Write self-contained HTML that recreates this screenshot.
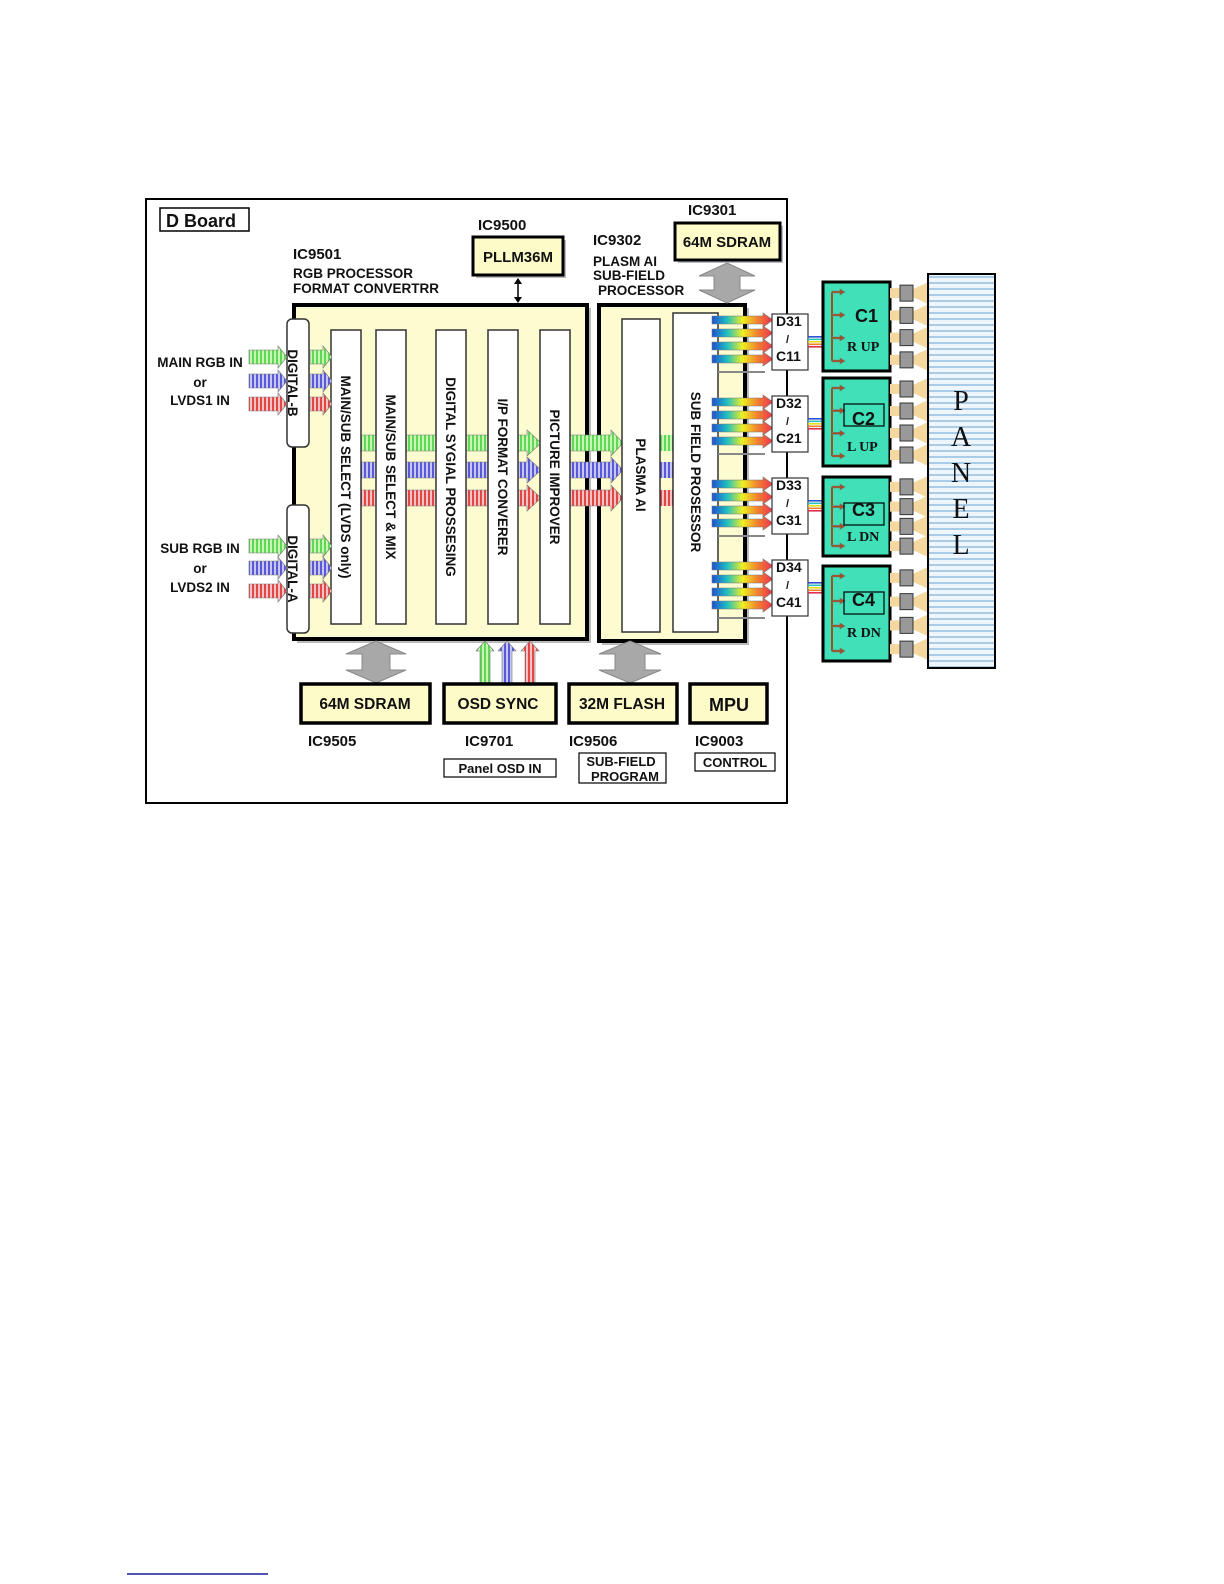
<!DOCTYPE html>
<html><head><meta charset="utf-8"><style>
html,body{margin:0;padding:0;background:#fff}
svg{display:block}
text{font-family:"Liberation Sans",Arial,sans-serif;font-weight:bold;fill:#111}
</style></head><body>
<svg id="s" width="1224" height="1584" viewBox="0 0 1224 1584" xmlns="http://www.w3.org/2000/svg">
<defs>
<pattern id="pg" width="4" height="4" patternUnits="userSpaceOnUse"><rect width="4" height="4" fill="#c8f5b0"/><rect width="2" height="4" fill="#5fd85a"/></pattern>
<pattern id="pb" width="4" height="4" patternUnits="userSpaceOnUse"><rect width="4" height="4" fill="#c6c6f5"/><rect width="2" height="4" fill="#5a5ad8"/></pattern>
<pattern id="pr" width="4" height="4" patternUnits="userSpaceOnUse"><rect width="4" height="4" fill="#f8c2c2"/><rect width="2" height="4" fill="#e04848"/></pattern>
<pattern id="pp" width="6" height="6" patternUnits="userSpaceOnUse"><rect width="6" height="6" fill="#eef6fc"/><rect width="6" height="2" fill="#a9cde8"/></pattern>
<linearGradient id="rb" x1="0" x2="1" y1="0" y2="0"><stop offset="0" stop-color="#2050d0"/><stop offset="0.25" stop-color="#20c0c0"/><stop offset="0.5" stop-color="#f0f020"/><stop offset="0.75" stop-color="#f08030"/><stop offset="1" stop-color="#f03050"/></linearGradient>
</defs>
<!-- outer frame -->
<rect x="146" y="199" width="641" height="604" fill="#fff" stroke="#000" stroke-width="2"/>
<rect x="160" y="208" width="89" height="23" fill="#fff" stroke="#000" stroke-width="1.5"/>
<text x="166" y="227" font-size="18">D Board</text>
<text x="293" y="259" font-size="15">IC9501</text>
<text x="293" y="278" font-size="13.5">RGB PROCESSOR</text>
<text x="293" y="293" font-size="13.5">FORMAT CONVERTRR</text>
<text x="478" y="230" font-size="15">IC9500</text>
<rect x="476" y="240" width="90" height="38" fill="#bbb"/>
<rect x="473" y="237" width="90" height="38" fill="#fdfbc8" stroke="#000" stroke-width="3"/>
<text x="518" y="262" font-size="15" text-anchor="middle">PLLM36M</text>
<line x1="518" y1="279" x2="518" y2="301" stroke="#000" stroke-width="1.5"/>
<path d="M514,284 L518,278 L522,284Z M514,297 L518,303 L522,297Z"/>
<text x="593" y="245" font-size="15">IC9302</text>
<text x="593" y="266" font-size="13.5">PLASM AI</text>
<text x="593" y="280" font-size="13.5">SUB-FIELD</text>
<text x="598" y="295" font-size="13.5">PROCESSOR</text>
<text x="688" y="215" font-size="15">IC9301</text>
<rect x="678" y="226" width="105" height="37" fill="#bbb"/>
<rect x="675" y="223" width="105" height="37" fill="#fdfbc8" stroke="#000" stroke-width="3"/>
<text x="727" y="247" font-size="15" text-anchor="middle">64M SDRAM</text>
<!-- big boxes -->
<rect x="297" y="308" width="294" height="335" fill="#bbb"/>
<rect x="294" y="305" width="293" height="334" fill="#fdfbd0" stroke="#000" stroke-width="4"/>
<rect x="602" y="308" width="147" height="337" fill="#bbb"/>
<rect x="599" y="305" width="146" height="336" fill="#fdfbd0" stroke="#000" stroke-width="4"/>
<g id="arrows"></g>
<!-- columns -->
<g fill="#fff" stroke="#333" stroke-width="1.5">
<rect x="331" y="330" width="30" height="294"/>
<rect x="376" y="330" width="30" height="294"/>
<rect x="436" y="330" width="30" height="294"/>
<rect x="488" y="330" width="30" height="294"/>
<rect x="540" y="330" width="30" height="294"/>
<rect x="622" y="319" width="38" height="313"/>
<rect x="673" y="313" width="45" height="319"/>
<rect x="287" y="319" width="22" height="128" rx="5"/>
<rect x="287" y="505" width="22" height="128" rx="5"/>
</g>
<g id="arrows2"></g>
<g font-size="13.5">
<text transform="translate(293,383) rotate(90)" text-anchor="middle" dy="5">DIGITAL-B</text>
<text transform="translate(293,569) rotate(90)" text-anchor="middle" dy="5">DIGITAL-A</text>
<text transform="translate(346,477) rotate(90)" text-anchor="middle" dy="5">MAIN/SUB SELECT (LVDS only)</text>
<text transform="translate(391,477) rotate(90)" text-anchor="middle" dy="5">MAIN/SUB SELECT &amp; MIX</text>
<text transform="translate(451,477) rotate(90)" text-anchor="middle" dy="5">DIGITAL SYGIAL PROSSESING</text>
<text transform="translate(503,477) rotate(90)" text-anchor="middle" dy="5">I/P FORMAT CONVERER</text>
<text transform="translate(555,477) rotate(90)" text-anchor="middle" dy="5">PICTURE IMPROVER</text>
<text transform="translate(641,475) rotate(90)" text-anchor="middle" dy="5">PLASMA AI</text>
<text transform="translate(696,472) rotate(90)" text-anchor="middle" dy="5">SUB FIELD PROSESSOR</text>
</g>
<g font-size="13.5" text-anchor="middle">
<text x="200" y="367">MAIN RGB IN</text><text x="200" y="387">or</text><text x="200" y="405">LVDS1 IN</text>
<text x="200" y="553">SUB RGB IN</text><text x="200" y="573">or</text><text x="200" y="592">LVDS2 IN</text>
</g>
<!-- gray double arrows -->
<g fill="#a8a8a8" stroke="#888">
<path d="M727,263 L755,276 L740,276 L740,290 L755,290 L727,303 L699,290 L714,290 L714,276 L699,276Z"/>
<path d="M376,641 L406,654 L390,654 L390,670 L406,670 L376,683 L346,670 L362,670 L362,654 L346,654Z"/>
<path d="M630,641 L661,654 L645,654 L645,670 L661,670 L630,683 L599,670 L615,670 L615,654 L599,654Z"/>
</g>
<!-- bottom boxes -->
<g stroke="#000" stroke-width="3.5" fill="#fdfbc8">
<rect x="301" y="684" width="129" height="39"/>
<rect x="444" y="684" width="112" height="39"/>
<rect x="569" y="684" width="108" height="39"/>
<rect x="690" y="684" width="77" height="39"/>
</g>
<g font-size="15.5" text-anchor="middle">
<text x="365" y="709">64M SDRAM</text><text x="498" y="709">OSD SYNC</text><text x="622" y="709">32M FLASH</text><text x="729" y="711" font-size="18">MPU</text>
</g>
<g font-size="15"><text x="308" y="746">IC9505</text><text x="465" y="746">IC9701</text><text x="569" y="746">IC9506</text><text x="695" y="746">IC9003</text></g>
<g fill="#fff" stroke="#000" stroke-width="1.2">
<rect x="444" y="759" width="112" height="18"/><rect x="579" y="753" width="87" height="30"/><rect x="695" y="753" width="80" height="18"/>
</g>
<g font-size="13" text-anchor="middle">
<text x="500" y="773">Panel OSD IN</text><text x="621" y="766">SUB-FIELD</text><text x="625" y="781">PROGRAM</text><text x="735" y="767">CONTROL</text>
</g>
<!-- D boxes, C boxes -->
<g id="right"></g>
<!-- panel -->
<rect x="928" y="274" width="67" height="394" fill="url(#pp)" stroke="#000" stroke-width="2"/>
<g font-family="Liberation Serif" font-size="28" text-anchor="middle" style="font-family:'Liberation Serif',serif;font-weight:normal">
<text x="961" y="410" style="font-weight:normal;font-family:'Liberation Serif',serif">P</text>
<text x="961" y="446" style="font-weight:normal;font-family:'Liberation Serif',serif">A</text>
<text x="961" y="482" style="font-weight:normal;font-family:'Liberation Serif',serif">N</text>
<text x="961" y="518" style="font-weight:normal;font-family:'Liberation Serif',serif">E</text>
<text x="961" y="554" style="font-weight:normal;font-family:'Liberation Serif',serif">L</text>
</g>
<g font-size="14">
<text x="776" y="326">D31</text><text x="786" y="343" font-size="11" font-weight="normal">/</text><text x="776" y="361">C11</text>
<text x="776" y="408">D32</text><text x="786" y="425" font-size="11" font-weight="normal">/</text><text x="776" y="443">C21</text>
<text x="776" y="490">D33</text><text x="786" y="507" font-size="11" font-weight="normal">/</text><text x="776" y="525">C31</text>
<text x="776" y="572">D34</text><text x="786" y="589" font-size="11" font-weight="normal">/</text><text x="776" y="607">C41</text>
</g>
<g font-size="18"><text x="855" y="322">C1</text><text x="852" y="425">C2</text><text x="852" y="516">C3</text><text x="852" y="606">C4</text></g>
<g font-size="14" style="font-family:'Liberation Serif',serif"><text x="847" y="351" style="font-family:'Liberation Serif',serif">R UP</text><text x="847" y="451" style="font-family:'Liberation Serif',serif">L UP</text><text x="847" y="541" style="font-family:'Liberation Serif',serif">L DN</text><text x="847" y="637" style="font-family:'Liberation Serif',serif">R DN</text></g>
<line x1="127" y1="1574" x2="268" y2="1574" stroke="#1a1aa0" stroke-width="1.5"/>
</svg>
<script>
var NS="http://www.w3.org/2000/svg";
function el(p,t,a){var e=document.createElementNS(NS,t);for(var k in a)e.setAttribute(k,a[k]);p.appendChild(e);return e;}
function arr(g,x1,x2,cy,f,sh,hh,hl){sh=sh||8;hh=hh||13;hl=hl||10;var xh=x2-hl;
el(g,"path",{d:"M"+x1+","+(cy-sh)+" L"+xh+","+(cy-sh)+" L"+xh+","+(cy-hh)+" L"+x2+","+cy+" L"+xh+","+(cy+hh)+" L"+xh+","+(cy+sh)+" L"+x1+","+(cy+sh)+"Z",fill:f,stroke:"#777","stroke-width":"0.6"});}
function varr(g,x,y1,y2,f){el(g,"path",{d:"M"+(x-5)+","+y1+" L"+(x-5)+","+(y2+10)+" L"+(x-9)+","+(y2+10)+" L"+x+","+y2+" L"+(x+9)+","+(y2+10)+" L"+(x+5)+","+(y2+10)+" L"+(x+5)+","+y1+"Z",fill:f,stroke:"#777","stroke-width":"0.6"});}
var g=document.getElementById("arrows"),g2=document.getElementById("arrows2"),R=document.getElementById("right");
var f=["url(#pg)","url(#pb)","url(#pr)"];
[357,381,404].forEach(function(y,i){arr(g2,249,287,y,f[i],7,11,9);arr(g2,310,332,y,f[i],7,11,9);});
[546,568,591].forEach(function(y,i){arr(g2,249,287,y,f[i],7,11,9);arr(g2,310,332,y,f[i],7,11,9);});
[443,470,498].forEach(function(y,i){arr(g,361,541,y,f[i],8,13,14);arr(g,570,623,y,f[i],8,13,12);el(g,"rect",{x:660,y:y-8,width:13,height:16,fill:f[i]});});
varr(g2,485,684,641,"url(#pg)");varr(g2,507,684,641,"url(#pb)");varr(g2,530,684,641,"url(#pr)");
var D=[314,396,478,560],C=[[282,371],[378,466],[477,556],[566,661]];
D.forEach(function(dy){for(var k=0;k<4;k++)arr(R,712,773,dy+6+k*13,"url(#rb)",4,7,10);
el(R,"line",{x1:718,y1:dy+58,x2:765,y2:dy+58,stroke:"#888","stroke-width":2});
el(R,"rect",{x:772,y:dy,width:36,height:56,fill:"#fff",stroke:"#333","stroke-width":1.2});});
D.forEach(function(dy,i){for(var k=0;k<5;k++)el(R,"rect",{x:808,y:dy+22+k*2.5,width:30,height:1.6,fill:["#3050d0","#30c0c0","#e0e020","#f08030","#e03050"][k]});});
C.forEach(function(c,i){var y1=c[0],y2=c[1];
el(R,"rect",{x:823,y:y1,width:67,height:y2-y1,fill:"#40e0b8",stroke:"#000","stroke-width":3});
el(R,"line",{x1:832,y1:y1+10,x2:832,y2:y2-10,stroke:"#a05020","stroke-width":2});
for(var k=0;k<4;k++){var yy=y1+10+k*(y2-y1-20)/3;arr(R,832,845,yy,"#a05020",1,3,5);}
if(i>0)el(R,"rect",{x:844,y:y1+26,width:40,height:22,fill:"none",stroke:"#000","stroke-width":1.2});
var step=(y2-y1)/4;for(var k=0;k<4;k++){var cy=y1+step*(k+0.5);
el(R,"rect",{x:890,y:cy-5,width:10,height:10,fill:"#f5d8a0"});
el(R,"path",{d:"M913,"+(cy-4)+" L928,"+(cy-11)+" L928,"+(cy+11)+" L913,"+(cy+4)+"Z",fill:"#f5d8a0"});
el(R,"rect",{x:900,y:cy-8,width:13,height:16,fill:"#999",stroke:"#333","stroke-width":1});}});
</script>
</body></html>
